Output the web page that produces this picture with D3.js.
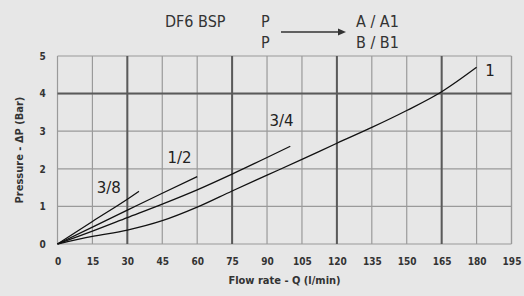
<!DOCTYPE html>
<html>
<head>
<meta charset="utf-8">
<script src="https://cdn.jsdelivr.net/npm/d3@7"></script>
<style>
  body { margin: 0; background: #e7e7e7; }
  svg { display: block; }
  .tick text { font-family: "DejaVu Sans Condensed", "DejaVu Sans", sans-serif; font-weight: bold; font-size: 10px; fill: #333; }
</style>
</head>
<body>
<svg id="chart" width="524" height="296"></svg>
<script>
// curve data: [flow l/min, pressure bar]
var curve38 = [[0, 0], [15, 0.6], [30, 1.19], [35, 1.4]];
var curve12 = [[0, 0], [15, 0.45], [30, 0.9], [45, 1.35], [60, 1.79]];
var curve34 = [[0, 0], [15, 0.34], [30, 0.7], [45, 1.06], [60, 1.44], [75, 1.86], [90, 2.3], [100, 2.6]];
var curve1 = [[0, 0], [15, 0.2], [30, 0.37], [45, 0.62], [60, 0.98], [75, 1.41], [90, 1.83], [105, 2.25],
              [120, 2.68], [135, 3.1], [150, 3.55], [165, 4.05], [180, 4.7]];
var curveNames = ["3/8", "1/2", "3/4", "1"];
// label anchor points in data units
var labelPos = [[22, 1.35], [52.4, 2.15], [96.2, 3.14], [185.8, 4.48]];

var xTicks = d3.range(0, 196, 15);
var yTicks = [0, 1, 2, 3, 4, 5];
var xHeavy = [30, 75, 120, 165];
var yHeavy = [4];

var svg = d3.select("svg#chart"),
    margin = {top: 56, right: 12.5, bottom: 52, left: 57.5};

var width = +svg.attr("width") - margin.left - margin.right,
    height = +svg.attr("height") - margin.top - margin.bottom;

var x = d3.scaleLinear().domain([0, 195]).range([0, width]);
var y = d3.scaleLinear().domain([0, 5]).range([height, 0]);

var g = svg.append("g").attr("transform", "translate(" + margin.left + "," + margin.top + ")");

// thin grid
g.append("g").selectAll("line")
  .data(xTicks)
  .enter().append("line")
    .attr("x1", function(d) { return x(d); }).attr("x2", function(d) { return x(d); })
    .attr("y1", 0).attr("y2", height)
    .attr("stroke", "#9a9a9a").attr("stroke-width", 1.2);

g.append("g").selectAll("line")
  .data(yTicks)
  .enter().append("line")
    .attr("y1", function(d) { return y(d); }).attr("y2", function(d) { return y(d); })
    .attr("x1", 0).attr("x2", width)
    .attr("stroke", "#9a9a9a").attr("stroke-width", 1.2);

g.append("line")
    .attr("x1", x(195)).attr("x2", x(195)).attr("y1", 0).attr("y2", height)
    .attr("stroke", "#9a9a9a").attr("stroke-width", 1.2);

// heavy grid
g.append("g").selectAll("line")
  .data(xHeavy)
  .enter().append("line")
    .attr("x1", function(d) { return x(d); }).attr("x2", function(d) { return x(d); })
    .attr("y1", 0).attr("y2", height)
    .attr("stroke", "#5a5a5a").attr("stroke-width", 2);

g.append("g").selectAll("line")
  .data(yHeavy)
  .enter().append("line")
    .attr("y1", function(d) { return y(d); }).attr("y2", function(d) { return y(d); })
    .attr("x1", 0).attr("x2", width)
    .attr("stroke", "#5a5a5a").attr("stroke-width", 2);

// axes (ticks only, no domain)
var xAxis = g.append("g")
    .attr("transform", "translate(0," + height + ")")
    .call(d3.axisBottom(x).tickValues(xTicks).tickSize(0).tickPadding(14));
xAxis.select(".domain").remove();

var yAxis = g.append("g")
    .call(d3.axisLeft(y).tickValues(yTicks).tickFormat(d3.format("d")).tickSize(0).tickPadding(14));
yAxis.select(".domain").remove();
yAxis.selectAll(".tick text").attr("text-anchor", "middle").attr("dx", "-1");

// curves
var line = d3.line()
    .x(function(d) { return x(d[0]); })
    .y(function(d) { return y(d[1]); })
    .curve(d3.curveMonotoneX);

var curves = [curve38, curve12, curve34, curve1];

g.append("g").selectAll("path")
  .data(curves)
  .enter().append("path")
    .attr("d", line)
    .attr("fill", "none")
    .attr("stroke", "#111")
    .attr("stroke-width", 1.3);

g.append("g").selectAll("text")
  .data(curveNames)
  .enter().append("text")
    .attr("x", function(d, i) { return x(labelPos[i][0]); })
    .attr("y", function(d, i) { return y(labelPos[i][1]); })
    .attr("text-anchor", "middle")
    .attr("font-family", "DejaVu Sans, sans-serif")
    .attr("font-size", 15)
    .attr("fill", "#222")
    .text(function(d) { return d; });

// axis titles
svg.append("text")
    .attr("x", margin.left + width / 2)
    .attr("y", 284)
    .attr("text-anchor", "middle")
    .attr("font-family", "DejaVu Sans Condensed, sans-serif")
    .attr("font-weight", "bold")
    .attr("font-size", 11)
    .attr("fill", "#333")
    .text("Flow rate - Q (l/min)");

svg.append("text")
    .attr("transform", "translate(23,150) rotate(-90)")
    .attr("text-anchor", "middle")
    .attr("font-family", "DejaVu Sans Condensed, sans-serif")
    .attr("font-weight", "bold")
    .attr("font-size", 11)
    .attr("fill", "#333")
    .text("Pressure - \u0394P (Bar)");

// header
var header = svg.append("g")
    .attr("font-family", "DejaVu Sans Condensed, sans-serif")
    .attr("font-size", 16)
    .attr("fill", "#333");

header.append("text").attr("x", 165).attr("y", 27).text("DF6 BSP");
header.append("text").attr("x", 261).attr("y", 27).text("P");
header.append("text").attr("x", 261).attr("y", 48).text("P");
header.append("text").attr("x", 356).attr("y", 27).text("A / A1");
header.append("text").attr("x", 356).attr("y", 48).text("B / B1");

header.append("line")
    .attr("x1", 281).attr("x2", 340).attr("y1", 32).attr("y2", 32)
    .attr("stroke", "#333").attr("stroke-width", 1.3);
header.append("path")
    .attr("d", "M338,28.5 L346,32 L338,35.5 Z")
    .attr("fill", "#333");
</script>
</body>
</html>
